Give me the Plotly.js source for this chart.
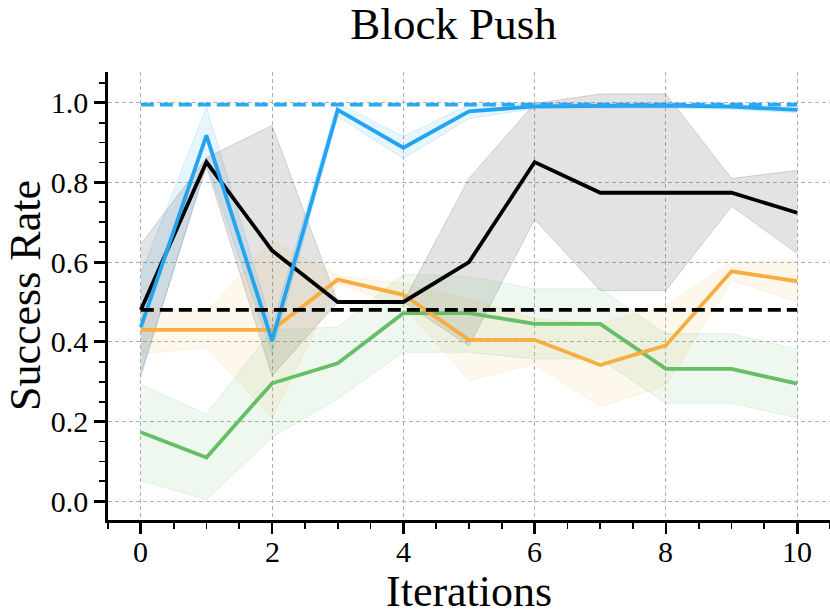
<!DOCTYPE html>
<html>
<head>
<meta charset="utf-8">
<script src="https://cdn.plot.ly/plotly-3.0.1.min.js"></script>
<style>html,body{margin:0;padding:0;background:#fff;}#chart{width:830px;height:616px;}</style>
</head>
<body>
<div id="chart"></div>
<script>
// ---- data ----
const iterations = [0, 1, 2, 3, 4, 5, 6, 7, 8, 9, 10];

const blueMean  = [0.437, 0.918, 0.403, 0.982, 0.887, 0.978, 0.991, 0.993, 0.993, 0.990, 0.982];
const blueLow   = [0.310, 0.850, 0.370, 0.965, 0.860, 0.960, 0.985, 0.987, 0.987, 0.983, 0.975];
const blueHigh  = [0.570, 0.989, 0.440, 1.000, 0.915, 0.995, 0.997, 0.998, 0.998, 0.996, 0.990];

const blackMean = [0.480, 0.851, 0.629, 0.500, 0.500, 0.600, 0.851, 0.774, 0.774, 0.774, 0.724];
const blackLow  = [0.320, 0.840, 0.315, 0.500, 0.500, 0.390, 0.707, 0.529, 0.529, 0.740, 0.622];
const blackHigh = [0.645, 0.862, 0.943, 0.500, 0.500, 0.810, 0.998, 1.022, 1.022, 0.810, 0.830];

const orangeMean = [0.430, 0.430, 0.430, 0.556, 0.518, 0.405, 0.405, 0.342, 0.391, 0.577, 0.552];
const orangeLow  = [0.370, 0.385, 0.210, 0.545, 0.490, 0.303, 0.345, 0.237, 0.290, 0.554, 0.500];
const orangeHigh = [0.490, 0.475, 0.654, 0.566, 0.545, 0.507, 0.458, 0.447, 0.490, 0.600, 0.604];

const greenMean = [0.173, 0.110, 0.296, 0.346, 0.472, 0.472, 0.445, 0.445, 0.332, 0.332, 0.295];
const greenLow  = [0.052, 0.004, 0.160, 0.257, 0.374, 0.374, 0.357, 0.357, 0.246, 0.246, 0.209];
const greenHigh = [0.293, 0.219, 0.430, 0.437, 0.570, 0.564, 0.533, 0.533, 0.420, 0.420, 0.382];

const blueBaseline  = [0.995, 0.995, 0.995, 0.995, 0.995, 0.995, 0.995, 0.995, 0.995, 0.995, 0.995];
const blackBaseline = [0.480, 0.480, 0.480, 0.480, 0.480, 0.480, 0.480, 0.480, 0.480, 0.480, 0.480];

const xTickVals = [0, 2, 4, 6, 8, 10];
const yTickVals = [0.0, 0.2, 0.4, 0.6, 0.8, 1.0];

const titleText  = 'Block Push';
const xTitleText = 'Iterations';
const yTitleText = 'Success Rate';

// ---- styling ----
const C = {
  blue:   [34, 165, 241],
  black:  [0, 0, 0],
  orange: [247, 173, 64],
  green:  [102, 191, 102]
};
const rgba = (c, a) => `rgba(${c[0]},${c[1]},${c[2]},${a})`;

function band(low, high, col, fillA, edgeA) {
  return [
    { x: iterations, y: low, type: 'scatter', mode: 'lines',
      line: { color: rgba(col, edgeA), width: 1 }, hoverinfo: 'skip', showlegend: false },
    { x: iterations, y: high, type: 'scatter', mode: 'lines', fill: 'tonexty',
      fillcolor: rgba(col, fillA),
      line: { color: rgba(col, edgeA), width: 1 }, hoverinfo: 'skip', showlegend: false }
  ];
}
function line(y, col, dash) {
  return { x: iterations, y: y, type: 'scatter', mode: 'lines',
    line: { color: rgba(col, 1), width: 3.8, dash: dash || 'solid' }, showlegend: false };
}

const traces = [
  ...band(blueLow, blueHigh, C.blue, 0.11, 0.16),
  ...band(blackLow, blackHigh, C.black, 0.11, 0.15),
  ...band(orangeLow, orangeHigh, C.orange, 0.10, 0.14),
  ...band(greenLow, greenHigh, C.green, 0.11, 0.15),
  line(greenMean, C.green),
  line(orangeMean, C.orange),
  line(blackMean, C.black),
  line(blueMean, C.blue),
  line(blackBaseline, C.black, '13px,6px'),
  line(blueBaseline, [43, 168, 245], '13px,6px')
];

const font = 'Liberation Serif, Times New Roman, serif';
const tickFont = { family: font, size: 30, color: 'black' };
const labelFont = { family: font, size: 44, color: 'black' };

const ML = 108, MR = 0, MT = 72, MB = 96, W = 830, H = 616;
const plotW = W - ML - MR;

// x tick labels placed just under the axis (through the x scale)
const annotations = xTickVals.map(v => ({
  text: String(v), x: v, xref: 'x', y: 0, yref: 'paper',
  xanchor: 'center', yanchor: 'top', yshift: -13, showarrow: false,
  font: tickFont
}));
annotations.push({
  text: xTitleText, x: 0.5, xref: 'paper', y: 0, yref: 'paper',
  xanchor: 'center', yanchor: 'top', yshift: -45, showarrow: false, font: labelFont
});
annotations.push({
  text: yTitleText, x: (25 - ML) / plotW, xref: 'paper', y: 0.5, yref: 'paper',
  xanchor: 'center', yanchor: 'middle', textangle: -90, showarrow: false, font: labelFont
});

const layout = {
  width: W, height: H,
  margin: { l: ML, r: MR, t: MT, b: MB },
  paper_bgcolor: 'white', plot_bgcolor: 'white',
  font: { family: font, color: 'black' },
  title: { text: titleText, font: { family: font, size: 45, color: 'black' },
    xref: 'container', x: 453.5 / 830, xanchor: 'center',
    yref: 'container', y: 1 - 7 / 616, yanchor: 'top' },
  xaxis: {
    range: [-0.5, 10.5], tickmode: 'array', tickvals: xTickVals,
    showticklabels: false,
    showline: true, linecolor: 'black', linewidth: 2.8,
    ticks: 'outside', ticklen: 11, tickwidth: 2.8, tickcolor: 'black',
    minor: { dtick: 0.5, tick0: 0, ticks: 'outside', ticklen: 6, tickwidth: 1.8, tickcolor: 'black', showgrid: false },
    showgrid: true, gridcolor: '#b0b0b0', gridwidth: 1, griddash: '4px,3px',
    zeroline: false, automargin: false,
    title: { text: '' }
  },
  yaxis: {
    range: [-0.047, 1.077], tickmode: 'array', tickvals: yTickVals,
    ticktext: yTickVals.map(v => v.toFixed(1)),
    showline: true, linecolor: 'black', linewidth: 2.8,
    ticks: 'outside', ticklen: 11, tickwidth: 2.8, tickcolor: 'black',
    minor: { dtick: 0.05, tick0: 0, ticks: 'outside', ticklen: 6, tickwidth: 1.8, tickcolor: 'black', showgrid: false },
    showgrid: true, gridcolor: '#b0b0b0', gridwidth: 1, griddash: '4px,3px',
    zeroline: false, automargin: false, tickfont: tickFont,
    title: { text: '' }
  },
  annotations: annotations,
  showlegend: false
};

Plotly.newPlot('chart', traces, layout, { staticPlot: true, displayModeBar: false });
</script>
</body>
</html>
